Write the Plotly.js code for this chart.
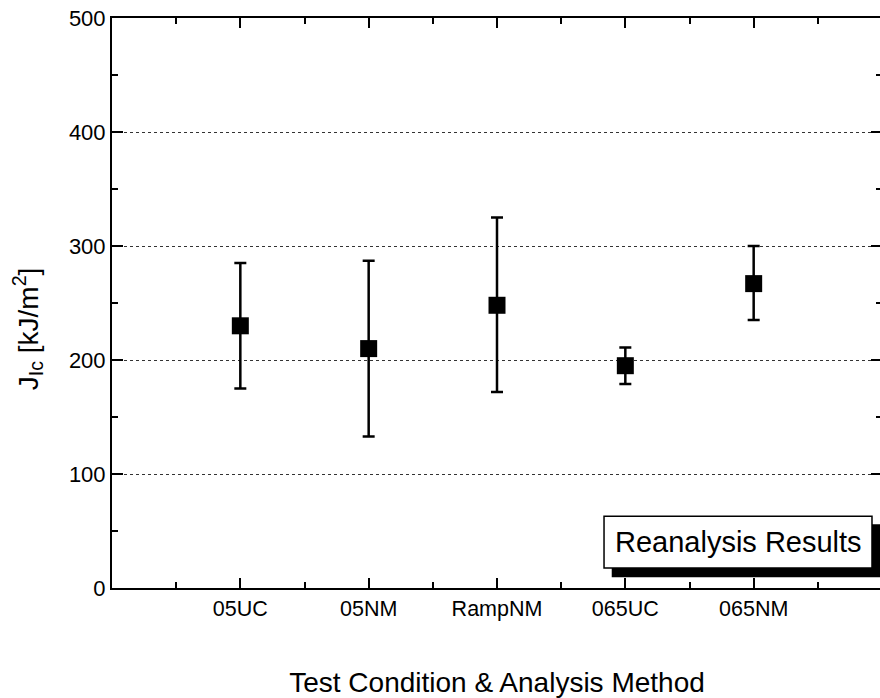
<!DOCTYPE html>
<html>
<head>
<meta charset="utf-8">
<script src="https://cdn.plot.ly/plotly-3.0.1.min.js"></script>
<style>
html, body { margin: 0; padding: 0; overflow: hidden; background: #fff; }
#chart { width: 884px; height: 698px; }
</style>
</head>
<body>
<div id="chart"></div>
<script>
// ---- data ----
const categories = ["05UC", "05NM", "RampNM", "065UC", "065NM"];
const jicMean  = [230, 210, 248, 195, 267];
const jicUpper = [285, 287, 325, 211, 300];
const jicLower = [175, 133, 172, 179, 235];
const extraTickText = "-";
const legendText = "Reanalysis Results";
const xTitle = "Test Condition &amp; Analysis Method";
const yTitle = "J<sub>Ic</sub> [kJ/m<sup>2</sup>]";

const xPos = categories.map((_, i) => i + 1);
const errPlus  = jicUpper.map((u, i) => u - jicMean[i]);
const errMinus = jicMean.map((m, i) => m - jicLower[i]);

const FONT = "Arial, 'Liberation Sans', Helvetica, sans-serif";

const trace = {
  type: "scatter",
  mode: "markers",
  x: xPos,
  y: jicMean,
  marker: { symbol: "square", size: 17, color: "#000" },
  error_y: {
    type: "data",
    symmetric: false,
    array: errPlus,
    arrayminus: errMinus,
    color: "#000",
    thickness: 2.5,
    width: 6
  },
  showlegend: false,
  hoverinfo: "skip"
};

const tickVals = [0].concat(xPos, [xPos.length + 1]);
const tickText = [" "].concat(categories, [extraTickText]);

const layout = {
  width: 884,
  height: 698,
  margin: { l: 112, r: 2, t: 18, b: 110 },
  paper_bgcolor: "#fff",
  plot_bgcolor: "#fff",
  font: { family: FONT, color: "#000", size: 21 },
  xaxis: {
    range: [0, xPos.length + 1],
    tickmode: "array",
    tickvals: tickVals,
    ticktext: tickText,
    ticks: "inside",
    ticklen: 10,
    tickwidth: 2,
    tickcolor: "#000",
    showline: true,
    linewidth: 2,
    linecolor: "#000",
    mirror: "ticks",
    showgrid: false,
    zeroline: false,
    tickfont: { size: 21.5, family: FONT },
    minor: { tickmode: "linear", tick0: 0.5, dtick: 1, ticks: "inside", ticklen: 6, tickwidth: 2, tickcolor: "#000", showgrid: false },
    title: { text: xTitle, font: { size: 28, family: FONT }, standoff: 55 },
    automargin: false
  },
  yaxis: {
    range: [0, 500],
    tickmode: "linear",
    tick0: 0,
    dtick: 100,
    ticks: "inside",
    ticklen: 11,
    tickwidth: 2,
    tickcolor: "#000",
    showline: true,
    linewidth: 2,
    linecolor: "#000",
    mirror: "ticks",
    showgrid: true,
    gridcolor: "#333",
    gridwidth: 1,
    griddash: "dot",
    zeroline: false,
    tickfont: { size: 22, family: FONT },
    minor: { tickmode: "linear", tick0: 50, dtick: 100, ticks: "inside", ticklen: 6, tickwidth: 2, tickcolor: "#000", showgrid: false },
    automargin: false
  },
  shapes: [
    { type: "rect", xref: "paper", yref: "paper", x0: 0.649, x1: 1.0, y0: 0.019, y1: 0.112,
      fillcolor: "#000", line: { width: 0 }, layer: "above" },
    { type: "rect", xref: "paper", yref: "paper", x0: 0.639, x1: 0.987, y0: 0.035, y1: 0.126,
      fillcolor: "#fff", line: { color: "#000", width: 1.5 }, layer: "above" }
  ],
  annotations: [
    { xref: "paper", yref: "paper", x: 0.813, y: 0.0805, xanchor: "center", yanchor: "middle",
      text: legendText, showarrow: false, font: { size: 29, family: FONT, color: "#000" } },
    { xref: "paper", yref: "paper", x: -0.109, y: 0.454, xanchor: "center", yanchor: "middle",
      textangle: -90, text: yTitle, showarrow: false, font: { size: 28, family: FONT, color: "#000" } }
  ]
};

Plotly.newPlot("chart", [trace], layout, { displayModeBar: false, staticPlot: true });
</script>
</body>
</html>
